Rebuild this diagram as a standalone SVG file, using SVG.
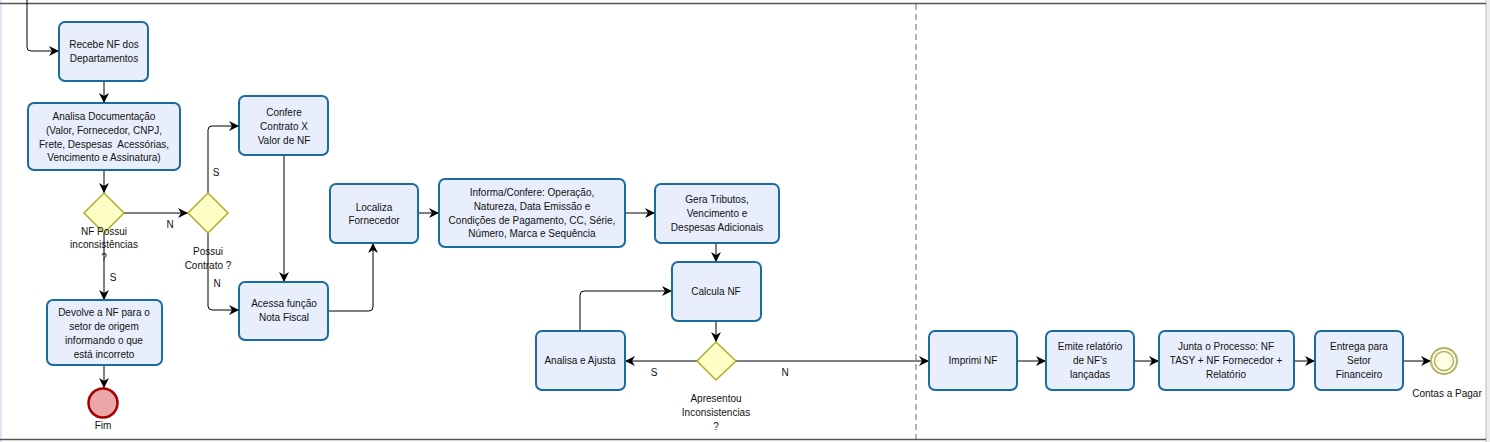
<svg xmlns="http://www.w3.org/2000/svg" width="1490" height="442" viewBox="0 0 1490 442">
<style>
.task{fill:#e8eefc;stroke:#1b6c9e;stroke-width:2}
.gw{fill:#fdfdc6;stroke:#aeae2e;stroke-width:1.5}
.t{font-family:"Liberation Sans",Arial,sans-serif;font-size:10px;fill:#111;text-anchor:middle}
.c{fill:none;stroke:#000;stroke-width:1}
</style>
<defs>
<marker id="ar" viewBox="0 0 10 10" refX="10" refY="5" markerWidth="10" markerHeight="10" markerUnits="userSpaceOnUse" orient="auto">
<path d="M0,0 L10,5 L0,10 L3,5 z" fill="#000"/>
</marker>
</defs>
<rect x="0" y="0" width="2" height="442" fill="#dde4f5"/>
<rect x="1486" y="0" width="4" height="442" fill="#ececec"/>
<line x1="1486" y1="0" x2="1486" y2="442" stroke="#bbb" stroke-width="1"/>
<line x1="0" y1="3.5" x2="1486" y2="3.5" stroke="#555" stroke-width="1.5"/>
<line x1="0" y1="439.5" x2="1486" y2="439.5" stroke="#555" stroke-width="1.5"/>
<line x1="916" y1="4" x2="916" y2="439" stroke="#666" stroke-width="1" stroke-dasharray="6,4"/>

<g id="connectors">
<path class="c" d="M27,0 V47 Q27,51 31,51 H59" marker-end="url(#ar)"/>
<path class="c" d="M104,81 V103" marker-end="url(#ar)"/>
<path class="c" d="M104,170 V193" marker-end="url(#ar)"/>
<path class="c" d="M124,213 H188" marker-end="url(#ar)"/>
<path class="c" d="M104,233 V300" marker-end="url(#ar)"/>
<path class="c" d="M104,365 V388" marker-end="url(#ar)"/>
<path class="c" d="M208,193 V130 Q208,126 212,126 H239" marker-end="url(#ar)"/>
<path class="c" d="M208,233 V306 Q208,310 212,310 H239" marker-end="url(#ar)"/>
<path class="c" d="M284,155 V282" marker-end="url(#ar)"/>
<path class="c" d="M328,311 H369 Q373,311 373,307 V243" marker-end="url(#ar)"/>
<path class="c" d="M418,213 H439" marker-end="url(#ar)"/>
<path class="c" d="M625,213 H655" marker-end="url(#ar)"/>
<path class="c" d="M716,243 V262" marker-end="url(#ar)"/>
<path class="c" d="M716,321 V342" marker-end="url(#ar)"/>
<path class="c" d="M697,361 H625" marker-end="url(#ar)"/>
<path class="c" d="M580,331 V295 Q580,291 584,291 H672" marker-end="url(#ar)"/>
<path class="c" d="M736,361 H929" marker-end="url(#ar)"/>
<path class="c" d="M1017,361 H1046" marker-end="url(#ar)"/>
<path class="c" d="M1134,361 H1159" marker-end="url(#ar)"/>
<path class="c" d="M1294,361 H1315" marker-end="url(#ar)"/>
<path class="c" d="M1403,361 H1431" marker-end="url(#ar)"/>
<text class="t" x="170" y="228">N</text>
<text class="t" x="113" y="281">S</text>
<text class="t" x="216" y="176">S</text>
<text class="t" x="217" y="287">N</text>
<text class="t" x="654" y="376">S</text>
<text class="t" x="785" y="376">N</text>
</g>

<g id="recebe"><rect class="task" x="59" y="22" width="89" height="59" rx="6"/>
<text class="t" x="104" y="48">Recebe NF dos</text><text class="t" x="104" y="62">Departamentos</text></g>

<g id="analisa-doc"><rect class="task" x="28" y="103" width="152" height="67" rx="6"/>
<text class="t" x="104" y="120">Analisa Documentação</text>
<text class="t" x="104" y="134">(Valor, Fornecedor, CNPJ,</text>
<text class="t" x="104" y="148">Frete, Despesas&#160; Acessórias,</text>
<text class="t" x="104" y="161">Vencimento e Assinatura)</text></g>

<g id="gw1"><path class="gw" d="M104,193 L124,213 L104,233 L84,213 z"/>
<text class="t" x="104" y="235">NF Possui</text>
<text class="t" x="104" y="248">inconsistências</text>
<text class="t" x="104" y="261">?</text></g>

<g id="gw2"><path class="gw" d="M208,193 L228,213 L208,233 L188,213 z"/>
<text class="t" x="208" y="255">Possui</text>
<text class="t" x="208" y="269">Contrato ?</text></g>

<g id="devolve"><rect class="task" x="47" y="300" width="115" height="65" rx="6"/>
<text class="t" x="104" y="316">Devolve a NF para o</text>
<text class="t" x="104" y="330">setor de origem</text>
<text class="t" x="104" y="344">informando o que</text>
<text class="t" x="104" y="358">está incorreto</text></g>

<g id="fim"><circle cx="103" cy="403" r="14.5" fill="#eba6a8" stroke="#a50000" stroke-width="2.5"/>
<text class="t" x="103" y="429">Fim</text></g>

<g id="confere"><rect class="task" x="239" y="96" width="89" height="59" rx="6"/>
<text class="t" x="284" y="116">Confere</text>
<text class="t" x="284" y="130">Contrato X</text>
<text class="t" x="284" y="144">Valor de NF</text></g>

<g id="acessa"><rect class="task" x="239" y="282" width="89" height="58" rx="6"/>
<text class="t" x="284" y="307">Acessa função</text>
<text class="t" x="284" y="321">Nota Fiscal</text></g>

<g id="localiza"><rect class="task" x="330" y="184" width="88" height="59" rx="6"/>
<text class="t" x="374" y="211">Localiza</text>
<text class="t" x="374" y="224">Fornecedor</text></g>

<g id="informa"><rect class="task" x="439" y="179" width="186" height="68" rx="6"/>
<text class="t" x="532" y="196">Informa/Confere: Operação,</text>
<text class="t" x="532" y="210">Natureza, Data Emissão e</text>
<text class="t" x="532" y="224">Condições de Pagamento, CC, Série,</text>
<text class="t" x="532" y="237">Número, Marca e Sequência</text></g>

<g id="gera"><rect class="task" x="655" y="184" width="124" height="59" rx="6"/>
<text class="t" x="717" y="203">Gera Tributos,</text>
<text class="t" x="717" y="217">Vencimento e</text>
<text class="t" x="717" y="231">Despesas Adicionais</text></g>

<g id="calcula"><rect class="task" x="672" y="262" width="89" height="59" rx="6"/>
<text class="t" x="716" y="295">Calcula NF</text></g>

<g id="gw3"><path class="gw" d="M716,342 L736,361 L716,380 L697,361 z"/>
<text class="t" x="716" y="402">Apresentou</text>
<text class="t" x="716" y="416">Inconsistencias</text>
<text class="t" x="716" y="430">?</text></g>

<g id="ajusta"><rect class="task" x="536" y="331" width="89" height="59" rx="6"/>
<text class="t" x="580" y="364">Analisa e Ajusta</text></g>

<g id="imprimi"><rect class="task" x="929" y="331" width="88" height="59" rx="6"/>
<text class="t" x="973" y="364">Imprimi NF</text></g>

<g id="emite"><rect class="task" x="1046" y="331" width="88" height="59" rx="6"/>
<text class="t" x="1090" y="350">Emite relatório</text>
<text class="t" x="1090" y="364">de NF's</text>
<text class="t" x="1090" y="378">lançadas</text></g>

<g id="junta"><rect class="task" x="1159" y="331" width="135" height="59" rx="6"/>
<text class="t" x="1226" y="350">Junta o Processo: NF</text>
<text class="t" x="1226" y="364">TASY + NF Fornecedor +</text>
<text class="t" x="1226" y="378">Relatório</text></g>

<g id="entrega"><rect class="task" x="1315" y="331" width="88" height="59" rx="6"/>
<text class="t" x="1359" y="350">Entrega para</text>
<text class="t" x="1359" y="364">Setor</text>
<text class="t" x="1359" y="378">Financeiro</text></g>

<g id="contas-a-pagar"><circle cx="1444" cy="361" r="13" fill="#fefde6" stroke="#b5b06a" stroke-width="2"/>
<circle cx="1444" cy="361" r="9.5" fill="none" stroke="#b5b06a" stroke-width="1.5"/>
<text class="t" x="1447" y="397">Contas a Pagar</text></g>
</svg>
